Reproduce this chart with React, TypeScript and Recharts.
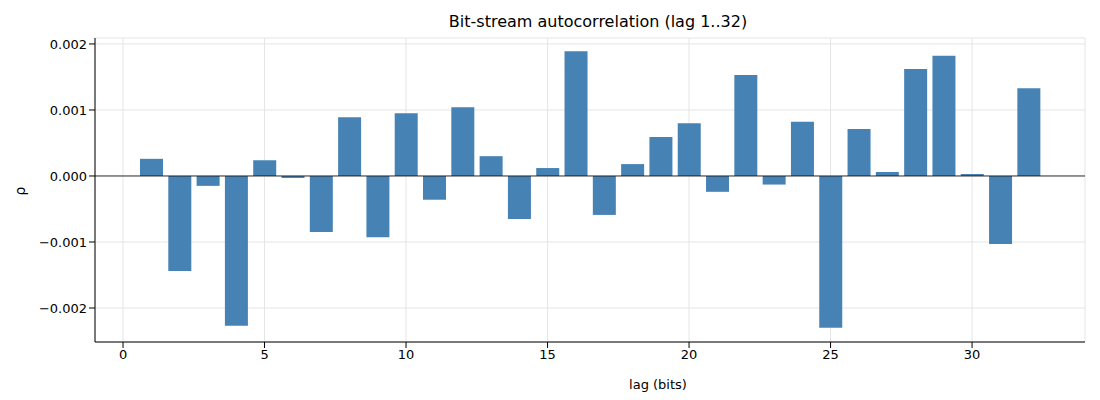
import { Bar, BarChart, CartesianGrid, ReferenceLine, XAxis, YAxis } from 'recharts';

const lags = Array.from({ length: 32 }, (_, i) => i + 1);
const rho = [
  0.00026, -0.00144, -0.00015, -0.00227, 0.00024, -0.00003, -0.00085, 0.00089,
  -0.00093, 0.00095, -0.00036, 0.00104, 0.0003, -0.00065, 0.00012, 0.00189,
  -0.00059, 0.00018, 0.00059, 0.0008, -0.00024, 0.00153, -0.00013, 0.00082,
  -0.0023, 0.00071, 0.00006, 0.00162, 0.00182, 0.00003, -0.00103, 0.00133,
];
const xTicks = [0, 5, 10, 15, 20, 25, 30];
const yTicks = [-0.002, -0.001, 0, 0.001, 0.002];

const data = lags.map((lag, i) => ({ lag, rho: rho[i] }));
const font = 'DejaVu Sans, sans-serif';
const fmt = (v: number) => (v < 0 ? '\u2212' : '') + Math.abs(v).toFixed(3);

export default function App() {
  return (
    <div style={{ position: 'relative', width: 1092, height: 392, fontFamily: font }}>
      <div style={{ position: 'absolute', top: 4, left: 0, width: 1180, textAlign: 'center', fontSize: 16 }}>
        Bit-stream autocorrelation (lag 1..32)
      </div>
      <div style={{ position: 'absolute', top: 369, left: 440, width: 420, textAlign: 'center', fontSize: 13 }}>
        lag (bits)
      </div>
      <div style={{ position: 'absolute', left: 8, top: 175, fontSize: 14, transform: 'rotate(-90deg)' }}>ρ</div>
      <BarChart
        width={1092}
        height={392}
        data={data}
        margin={{ top: 30, right: 15, left: 0, bottom: 18 }}
        barCategoryGap="10%"
      >
        <CartesianGrid stroke="#e5e5e5" />
        <XAxis
          dataKey="lag"
          type="number"
          domain={[-0.99, 33.99]}
          ticks={xTicks}
          tick={{ fontSize: 13, fill: '#000', fontFamily: font }}
          tickLine={{ stroke: '#000' }}
          axisLine={{ stroke: '#000' }}
          height={40}
        />
        <YAxis
          type="number"
          domain={[-0.002515, 0.00209]}
          ticks={yTicks}
          tickFormatter={fmt}
          tick={{ fontSize: 13, fill: '#000', fontFamily: font }}
          tickLine={{ stroke: '#000' }}
          axisLine={{ stroke: '#000' }}
          width={87}
          allowDataOverflow
        />
        <Bar dataKey="rho" fill="#4682b4" isAnimationActive={false} />
        <ReferenceLine y={0} stroke="#000" strokeWidth={0.8} />
      </BarChart>
    </div>
  );
}
